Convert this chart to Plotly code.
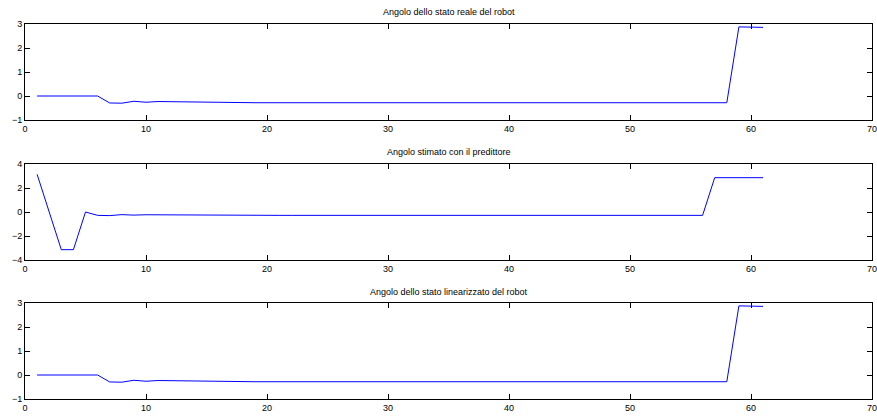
import plotly.graph_objects as go

x = list(range(1, 62))

reale = [0, 0, 0, 0, 0, 0, -0.29, -0.30, -0.22, -0.26, -0.23, -0.24, -0.25, -0.26, -0.27,
         -0.27, -0.28, -0.28, -0.28, -0.28, -0.28, -0.28, -0.28, -0.28, -0.28, -0.28, -0.28,
         -0.28, -0.28, -0.28, -0.28, -0.28, -0.28, -0.28, -0.28, -0.28, -0.28, -0.28, -0.28,
         -0.28, -0.28, -0.28, -0.28, -0.28, -0.28, -0.28, -0.28, -0.28, -0.28, -0.28, -0.28,
         -0.28, -0.28, -0.28, -0.28, -0.28, -0.28, -0.28, 2.88, 2.86, 2.86]

stimato = [3.14, 0.0, -3.14, -3.14, 0.0, -0.28, -0.30, -0.22, -0.26, -0.23, -0.24, -0.25,
           -0.26, -0.27, -0.27, -0.28, -0.28, -0.28, -0.28, -0.28, -0.28, -0.28, -0.28, -0.28,
           -0.28, -0.28, -0.28, -0.28, -0.28, -0.28, -0.28, -0.28, -0.28, -0.28, -0.28, -0.28,
           -0.28, -0.28, -0.28, -0.28, -0.28, -0.28, -0.28, -0.28, -0.28, -0.28, -0.28, -0.28,
           -0.28, -0.28, -0.28, -0.28, -0.28, -0.28, -0.28, -0.28, 2.86, 2.86, 2.86, 2.86, 2.86]

linearizzato = [0, 0, 0, 0, 0, 0, -0.29, -0.30, -0.22, -0.26, -0.23, -0.24, -0.25, -0.26, -0.27,
                -0.27, -0.28, -0.28, -0.28, -0.28, -0.28, -0.28, -0.28, -0.28, -0.28, -0.28, -0.28,
                -0.28, -0.28, -0.28, -0.28, -0.28, -0.28, -0.28, -0.28, -0.28, -0.28, -0.28, -0.28,
                -0.28, -0.28, -0.28, -0.28, -0.28, -0.28, -0.28, -0.28, -0.28, -0.28, -0.28, -0.28,
                -0.28, -0.28, -0.28, -0.28, -0.28, -0.28, -0.28, 2.88, 2.86, 2.86]

titles = ["Angolo dello stato reale del robot",
          "Angolo stimato con il predittore",
          "Angolo dello stato linearizzato del robot"]
series = [reale, stimato, linearizzato]
yranges = [[-1, 3], [-4, 4], [-1, 3]]
ytickvals = [[-1, 0, 1, 2, 3], [-4, -2, 0, 2, 4], [-1, 0, 1, 2, 3]]
xtickvals = [0, 10, 20, 30, 40, 50, 60, 70]

W, H = 877, 418
xl, xr = 25, 872
panels = [(24, 120), (164, 260), (303, 399)]
title_y = [12, 152, 292]

fig = go.Figure()
font = dict(family="Liberation Sans, Arial, sans-serif", size=9, color="black")

layout = dict(width=W, height=H, margin=dict(l=0, r=0, t=0, b=0),
              paper_bgcolor="white", plot_bgcolor="white", showlegend=False, font=font)
annotations = []
for i, (ys, title) in enumerate(zip(series, titles)):
    n = "" if i == 0 else str(i + 1)
    fig.add_trace(go.Scatter(x=x, y=ys, mode="lines", line=dict(color="#0000ff", width=1),
                             xaxis="x" + n, yaxis="y" + n, hoverinfo="skip"))
    top, bot = panels[i]
    layout["xaxis" + n] = dict(domain=[xl / W, xr / W], range=[0, 70], tickvals=xtickvals,
                               ticktext=[str(v) for v in xtickvals],
                               ticks="inside", ticklen=5, tickcolor="black", tickwidth=1,
                               showline=True, linecolor="black", linewidth=1, mirror="ticks",
                               showgrid=False, zeroline=False, anchor="y" + n,
                               ticklabeloverflow="allow",
                               automargin=False, tickfont=font, fixedrange=True)
    layout["yaxis" + n] = dict(domain=[1 - bot / H, 1 - top / H], range=yranges[i],
                               tickvals=ytickvals[i],
                               ticks="inside", ticklen=5, tickcolor="black", tickwidth=1,
                               showline=True, linecolor="black", linewidth=1, mirror="ticks",
                               showgrid=False, zeroline=False, anchor="x" + n,
                               ticklabeloverflow="allow",
                               automargin=False, tickfont=font, fixedrange=True)
    annotations.append(dict(text=title, x=(xl + xr) / 2 / W, y=1 - title_y[i] / H,
                            xref="paper", yref="paper", showarrow=False,
                            xanchor="center", yanchor="middle", font=font))
layout["annotations"] = annotations
fig.update_layout(**layout)
fig.write_html("out.html")
